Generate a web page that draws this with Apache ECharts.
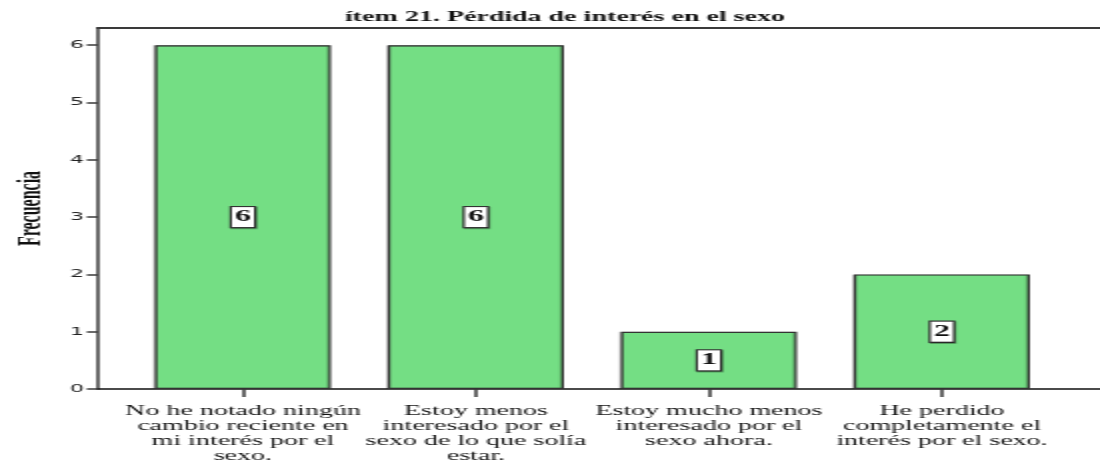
<!DOCTYPE html>
<html>
<head>
<meta charset="utf-8">
<script src="https://cdn.jsdelivr.net/npm/echarts@6/dist/echarts.min.js"></script>
<style>
  html, body { margin: 0; padding: 0; background: #fff; overflow: hidden; }
  /* the chart is laid out at half width and widened 2x horizontally */
  #chart { width: 550px; height: 472px; transform: scaleX(2); transform-origin: 0 0; }
</style>
</head>
<body>
<div id="chart"></div>
<script>
// Frequencies for item 21 of the inventory
const titleText = 'ítem 21. Pérdida de interés en el sexo';
const yName = 'Frecuencia';
const categories = [
  'No he notado ningún\ncambio reciente en\nmi interés por el\nsexo.',
  'Estoy menos\ninteresado por el\nsexo de lo que solía\nestar.',
  'Estoy mucho menos\ninteresado por el\nsexo ahora.',
  'He perdido\ncompletamente el\ninterés por el sexo.'
];
const counts = [6, 6, 1, 2];
const yTicks = [0, 1, 2, 3, 4, 5, 6];
const yMax = 6.3;

const chart = echarts.init(document.getElementById('chart'));
const axisColor = '#3a3a3a';

chart.setOption({
  animation: false,
  title: {
    text: titleText,
    left: 277.5,
    textAlign: 'center',
    top: 5,
    textStyle: { fontFamily: 'Liberation Serif', fontWeight: 'bold', fontSize: 14, color: '#111' }
  },
  grid: [
    // frame: left value axis, bottom baseline and top border
    { left: 37.5, right: 0, top: 28, bottom: 83 },
    // bars, inset from the frame
    { left: 63.25, width: 466, top: 28, bottom: 83 }
  ],
  xAxis: [
    {
      type: 'value', gridIndex: 0, min: 0, max: 1, position: 'bottom',
      axisLine: { show: true, lineStyle: { color: '#111', width: 1.5 } },
      axisTick: { show: false }, axisLabel: { show: false }, splitLine: { show: false }
    },
    {
      type: 'value', gridIndex: 0, min: 0, max: 1, position: 'top',
      axisLine: { show: true, lineStyle: { color: axisColor, width: 2 } },
      axisTick: { show: false }, axisLabel: { show: false }, splitLine: { show: false }
    },
    {
      type: 'category', gridIndex: 1, data: categories,
      axisLine: { show: false },
      axisTick: { show: true, alignWithLabel: true, length: 8, lineStyle: { color: axisColor, width: 1.5 } },
      axisLabel: {
        margin: 15, interval: 0,
        fontFamily: 'Liberation Serif', fontSize: 14, lineHeight: 15, color: '#111', align: 'center'
      }
    }
  ],
  yAxis: [
    {
      type: 'value', gridIndex: 0, min: 0, max: yMax,
      name: yName, nameLocation: 'middle', nameGap: 21, nameRotate: 90,
      nameTextStyle: { fontFamily: 'Liberation Serif', fontWeight: 'bold', fontSize: 16, color: '#111' },
      axisLine: { show: true, lineStyle: { color: axisColor, width: 1.5 } },
      axisTick: { show: true, length: 5.5, customValues: yTicks, lineStyle: { color: axisColor, width: 1.5 } },
      axisLabel: { customValues: yTicks, margin: 7, fontFamily: 'DejaVu Sans', fontSize: 11, color: '#222' },
      splitLine: { show: false }
    },
    {
      type: 'value', gridIndex: 1, min: 0, max: yMax, show: false
    }
  ],
  series: [
    {
      type: 'bar', xAxisIndex: 2, yAxisIndex: 1,
      data: counts, barWidth: 88,
      itemStyle: {
        color: '#74de84', borderColor: '#333', borderWidth: 1.2,
        shadowColor: 'rgba(0,0,0,0.2)', shadowOffsetX: -1, shadowBlur: 0
      },
      label: {
        show: true, position: 'inside',
        fontFamily: 'Liberation Serif', fontWeight: 'bold', fontSize: 16, color: '#111',
        backgroundColor: '#fff', borderColor: '#333', borderWidth: 1.2,
        padding: [2, 1.5, 2, 1.5],
        shadowColor: 'rgba(0,0,0,0.3)', shadowOffsetX: 0.5, shadowOffsetY: 1, shadowBlur: 0
      }
    }
  ]
});
</script>
</body>
</html>
